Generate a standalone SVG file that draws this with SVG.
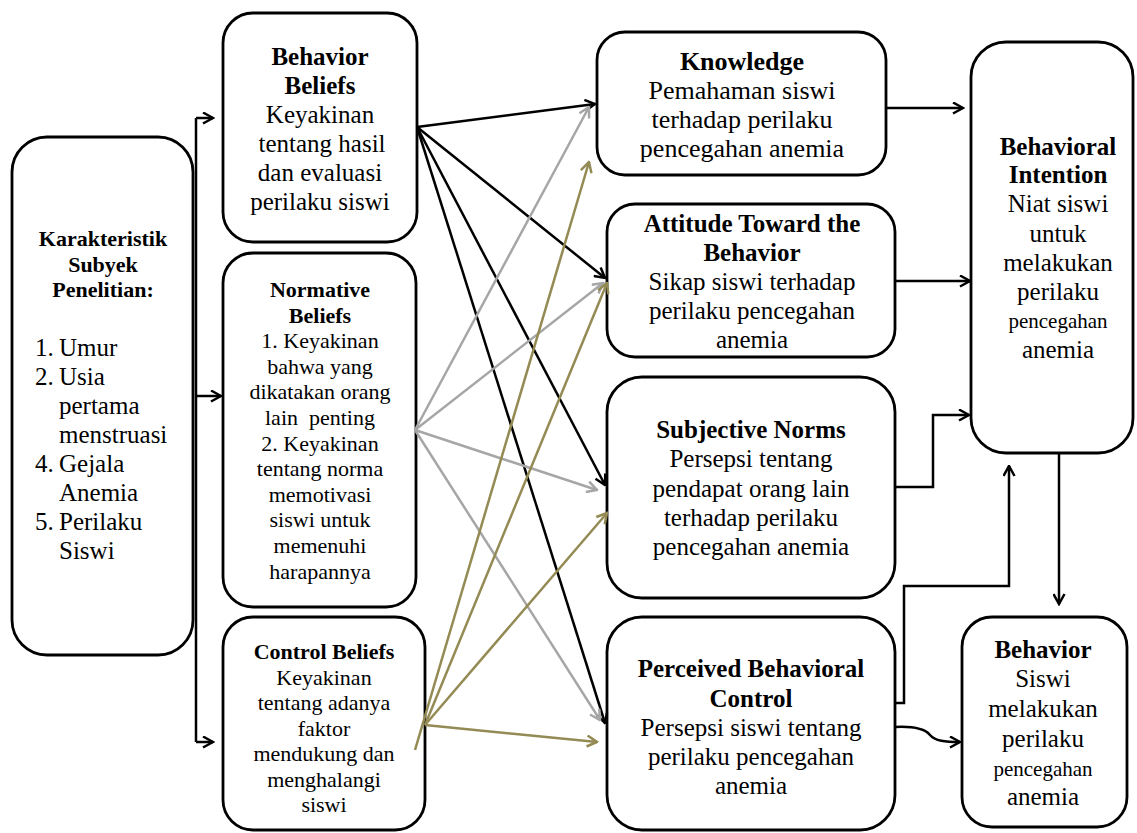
<svg xmlns="http://www.w3.org/2000/svg" width="1137" height="833" viewBox="0 0 1137 833">
<defs>
<marker id="ab" markerUnits="userSpaceOnUse" viewBox="0 0 13 13" refX="11.5" refY="6.5" markerWidth="13" markerHeight="13" orient="auto"><path d="M1.5,1 L11.5,6.5 L1.5,12" fill="none" stroke="#000" stroke-width="2.5"/></marker>
<marker id="ag" markerUnits="userSpaceOnUse" viewBox="0 0 13 13" refX="11.5" refY="6.5" markerWidth="13" markerHeight="13" orient="auto"><path d="M1.5,1 L11.5,6.5 L1.5,12" fill="none" stroke="#a6a6a6" stroke-width="2.5"/></marker>
<marker id="ao" markerUnits="userSpaceOnUse" viewBox="0 0 13 13" refX="11.5" refY="6.5" markerWidth="13" markerHeight="13" orient="auto"><path d="M1.5,1 L11.5,6.5 L1.5,12" fill="none" stroke="#948a54" stroke-width="2.5"/></marker>
</defs>
<style>
.box{fill:#fff;stroke:#000;stroke-width:2.8}
text{font-family:"Liberation Serif","Times New Roman",serif;fill:#000}
.m{text-anchor:middle}
.s25{font-size:25px}
.s26{font-size:26px}
.s22{font-size:22px}
.s21{font-size:21px}
.b{font-weight:bold}
.c{fill:none;stroke:#000;stroke-width:2.5}
.cb{fill:none;stroke:#000;stroke-width:2.5;marker-end:url(#ab)}
.cg{fill:none;stroke:#a6a6a6;stroke-width:2.5;marker-end:url(#ag)}
.co{fill:none;stroke:#948a54;stroke-width:2.5;marker-end:url(#ao)}
</style>
<rect width="1137" height="833" fill="#fff"/>

<g id="karakteristik">
<rect class="box" x="12" y="137" width="181" height="518" rx="35"/>
<text class="m s22 b" x="103" y="246">Karakteristik</text>
<text class="m s22 b" x="103" y="271.5">Subyek</text>
<text class="m s22 b" x="103" y="297">Penelitian:</text>
<text class="s25" x="35" y="356">1.<tspan x="59">Umur</tspan></text>
<text class="s25" x="35" y="385">2.<tspan x="59">Usia</tspan></text>
<text class="s25" x="59" y="414">pertama</text>
<text class="s25" x="59" y="443">menstruasi</text>
<text class="s25" x="35" y="472">4.<tspan x="59">Gejala</tspan></text>
<text class="s25" x="59" y="501">Anemia</text>
<text class="s25" x="35" y="530">5.<tspan x="59">Perilaku</tspan></text>
<text class="s25" x="59" y="559">Siswi</text>
</g>

<g id="behavior-beliefs">
<rect class="box" x="223" y="13" width="194" height="229" rx="30"/>
<text class="m s25 b" x="320" y="65">Behavior</text>
<text class="m s25 b" x="320" y="94">Beliefs</text>
<text class="m s25" x="320" y="123">Keyakinan</text>
<text class="m s25" x="322" y="152">tentang hasil</text>
<text class="m s25" x="320" y="181">dan evaluasi</text>
<text class="m s25" x="320" y="210">perilaku siswi</text>
</g>

<g id="normative-beliefs">
<rect class="box" x="223" y="253" width="193" height="354" rx="30"/>
<text class="m s22 b" x="320" y="297">Normative</text>
<text class="m s22 b" x="320" y="322.6">Beliefs</text>
<text class="m s22" x="320" y="348.2">1. Keyakinan</text>
<text class="m s22" x="320" y="373.8">bahwa yang</text>
<text class="m s22" x="320" y="399.4">dikatakan orang</text>
<text class="m s22" x="320" y="425">lain&#160; penting</text>
<text class="m s22" x="320" y="450.6">2. Keyakinan</text>
<text class="m s22" x="320" y="476.2">tentang norma</text>
<text class="m s22" x="320" y="501.8">memotivasi</text>
<text class="m s22" x="320" y="527.4">siswi untuk</text>
<text class="m s22" x="320" y="553">memenuhi</text>
<text class="m s22" x="320" y="578.6">harapannya</text>
</g>

<g id="control-beliefs">
<rect class="box" x="223" y="617" width="202" height="213" rx="30"/>
<text class="m s22 b" x="324" y="659">Control Beliefs</text>
<text class="m s22" x="324" y="684.5">Keyakinan</text>
<text class="m s22" x="324" y="710">tentang adanya</text>
<text class="m s22" x="324" y="735.5">faktor</text>
<text class="m s22" x="324" y="761">mendukung dan</text>
<text class="m s22" x="324" y="786.5">menghalangi</text>
<text class="m s22" x="324" y="812">siswi</text>
</g>

<g id="knowledge">
<rect class="box" x="597" y="32" width="289" height="143" rx="28"/>
<text class="m s26 b" x="742" y="70">Knowledge</text>
<text class="m s26" x="742" y="99">Pemahaman siswi</text>
<text class="m s26" x="742" y="128">terhadap perilaku</text>
<text class="m s26" x="742" y="157">pencegahan anemia</text>
</g>

<g id="attitude">
<rect class="box" x="607" y="204" width="288" height="153" rx="28"/>
<text class="m s25 b" x="752" y="232">Attitude Toward the</text>
<text class="m s25 b" x="752" y="261">Behavior</text>
<text class="m s25" x="752" y="290">Sikap siswi terhadap</text>
<text class="m s25" x="752" y="319">perilaku pencegahan</text>
<text class="m s25" x="752" y="348">anemia</text>
</g>

<g id="subjective-norms">
<rect class="box" x="607" y="377" width="288" height="221" rx="35"/>
<text class="m s25 b" x="751" y="438">Subjective Norms</text>
<text class="m s25" x="751" y="467">Persepsi tentang</text>
<text class="m s25" x="751" y="497">pendapat orang lain</text>
<text class="m s25" x="751" y="526">terhadap perilaku</text>
<text class="m s25" x="751" y="555">pencegahan anemia</text>
</g>

<g id="perceived-behavioral-control">
<rect class="box" x="607" y="617" width="288" height="213" rx="35"/>
<text class="m s25 b" x="751" y="677">Perceived Behavioral</text>
<text class="m s25 b" x="751" y="707">Control</text>
<text class="m s25" x="751" y="736">Persepsi siswi tentang</text>
<text class="m s25" x="751" y="765">perilaku pencegahan</text>
<text class="m s25" x="751" y="794">anemia</text>
</g>

<g id="behavioral-intention">
<rect class="box" x="971" y="42" width="162" height="411" rx="35"/>
<text class="m s25 b" x="1058" y="155">Behavioral</text>
<text class="m s25 b" x="1058" y="183">Intention</text>
<text class="m s25" x="1058" y="212">Niat siswi</text>
<text class="m s25" x="1058" y="242">untuk</text>
<text class="m s25" x="1058" y="271">melakukan</text>
<text class="m s25" x="1058" y="300">perilaku</text>
<text class="m s21" x="1058" y="328">pencegahan</text>
<text class="m s25" x="1058" y="358">anemia</text>
</g>

<g id="behavior">
<rect class="box" x="962" y="617" width="165" height="210" rx="30"/>
<text class="m s25 b" x="1043" y="658">Behavior</text>
<text class="m s25" x="1043" y="687">Siswi</text>
<text class="m s25" x="1043" y="717">melakukan</text>
<text class="m s25" x="1043" y="747">perilaku</text>
<text class="m s21" x="1043" y="776">pencegahan</text>
<text class="m s25" x="1043" y="805">anemia</text>
</g>

<g id="connectors">
<path class="c" d="M196,118 V742"/>
<path class="cb" d="M196,118 H213"/>
<path class="cb" d="M196,396 H221"/>
<path class="cb" d="M196,742 H213"/>

<path class="cb" d="M417,127 L595,104"/>
<path class="cb" d="M417,127 L605,278"/>
<path class="cb" d="M417,127 L605,485"/>
<path class="cb" d="M417,127 L605,723"/>

<path class="cg" d="M415,430 L589,107"/>
<path class="cg" d="M415,430 L603,283"/>
<path class="cg" d="M415,430 L597,490"/>
<path class="cg" d="M415,430 L600,720"/>

<path class="co" d="M415,750 L589,162"/>
<path class="co" d="M425,725 L607,283"/>
<path class="co" d="M425,725 L607,513"/>
<path class="co" d="M425,725 L597,742"/>

<path class="cb" d="M886,108 H963"/>
<path class="cb" d="M895,281 H970"/>
<path class="cb" d="M895,487 H933 V415 H969"/>
<path class="cb" d="M895,703 H904 V586 H1009 V466"/>
<path class="cb" d="M895,727 C915,726 925,729 930,735 C935,741 945,742 960,742"/>
<path class="cb" d="M1059,453 V604"/>
</g>
</svg>
